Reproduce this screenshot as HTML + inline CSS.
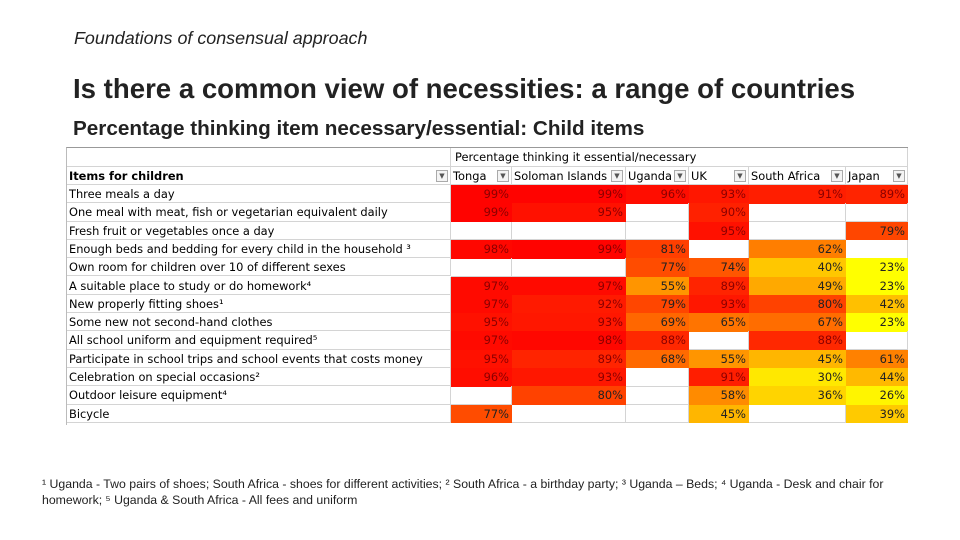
<!DOCTYPE html>
<html><head><meta charset="utf-8"><style>
body{margin:0;width:960px;height:540px;background:#fff;position:relative;overflow:hidden;font-family:"DejaVu Sans","Liberation Sans",sans-serif;}
.abs{position:absolute;white-space:nowrap;}
#sub{left:74px;top:28px;font-size:17.9px;font-style:italic;color:#222;font-family:"Liberation Sans",sans-serif;}
#title{left:73px;top:73px;font-size:27.6px;font-weight:bold;color:#222;font-family:"Liberation Sans",sans-serif;}
#title2{left:73px;top:117px;font-size:20.7px;font-weight:bold;color:#222;font-family:"Liberation Sans",sans-serif;}
#tbl{left:66px;top:147px;width:841px;height:277px;border-top:1px solid #999;border-left:1px solid #bbb;white-space:normal;}
.c{position:absolute;font-size:11.4px;line-height:18px;white-space:nowrap;overflow:hidden;box-sizing:border-box;}
.grid{border-bottom:1px solid #d4d4d4;border-right:1px solid #d4d4d4;}
.dd{position:absolute;width:12px;height:12px;border:1px solid #aaa;background:#f4f4f4;box-sizing:border-box;font-size:7px;line-height:10px;text-align:center;color:#555;}
#foot{left:42px;top:476px;width:880px;white-space:normal;font-size:12.3px;line-height:16px;color:#222;font-family:"Liberation Sans Narrow","Liberation Sans",sans-serif;}
</style></head><body>
<div id="sub" class="abs">Foundations of consensual approach</div>
<div id="title" class="abs">Is there a common view of necessities: a range of countries</div>
<div id="title2" class="abs">Percentage thinking item necessary/essential: Child items</div>
<div id="tbl" class="abs"></div>
<div id="foot" class="abs">¹ Uganda - Two pairs of shoes; South Africa - shoes for different activities; ² South Africa - a birthday party; ³ Uganda – Beds; ⁴ Uganda - Desk and chair for homework; ⁵ Uganda &amp; South Africa - All fees and uniform</div>
<script>
const countries=["Tonga","Soloman Islands","Uganda","UK","South Africa","Japan"];
const items=["Three meals a day","One meal with meat, fish or vegetarian equivalent daily","Fresh fruit or vegetables once a day","Enough beds and bedding for every child in the household ³","Own room for children over 10 of different sexes","A suitable place to study or do homework⁴","New properly fitting shoes¹","Some new not second-hand clothes","All school uniform and equipment required⁵","Participate in school trips and school events that costs money","Celebration on special occasions²","Outdoor leisure equipment⁴","Bicycle"];
const tonga=[99,99,null,98,null,97,97,95,97,95,96,null,77];
const solomon=[99,95,null,99,null,97,92,93,98,89,93,80,null];
const uganda=[96,null,null,81,77,55,79,69,88,68,null,null,null];
const uk=[93,90,95,null,74,89,93,65,null,55,91,58,45];
const southAfrica=[91,null,null,62,40,49,80,67,88,45,30,36,null];
const japan=[89,null,79,null,23,23,42,23,null,61,44,26,39];
const series=[tonga,solomon,uganda,uk,southAfrica,japan];
const colEdges=[0,384,445,559,622,682,779,841];
const top0=37,rowH=18.3;
const tbl=document.getElementById('tbl');
function color(v){let h=Math.max(0,Math.min(60,(100-v)/77*60));return `hsl(${h},100%,50%)`;}
function cell(x,y,w,h,txt,cls){const d=document.createElement('div');d.className='c '+(cls||'');d.style.left=x+'px';d.style.top=y+'px';d.style.width=w+'px';d.style.height=h+'px';d.textContent=txt;tbl.appendChild(d);return d;}
let h1=cell(colEdges[1],0,colEdges[7]-colEdges[1],19,'Percentage thinking it essential/necessary','grid');
h1.style.paddingLeft='4px';


let h0=cell(0,0,colEdges[1],19,'','grid');


let ih=cell(0,19,colEdges[1],18,'Items for children','grid');
ih.style.fontWeight='bold';ih.style.paddingLeft='2px';


function addDD(x){const b=document.createElement('div');b.className='dd';b.style.left=(x-15)+'px';b.style.top='22px';b.textContent='▼';tbl.appendChild(b);

}
addDD(colEdges[1]);
countries.forEach((c,i)=>{const d=cell(colEdges[i+1],19,colEdges[i+2]-colEdges[i+1],18,c,'grid');d.style.paddingLeft='2px';


addDD(colEdges[i+2]);});
items.forEach((it,r)=>{const y=top0+r*rowH;
const d=cell(0,y,colEdges[1],rowH,it,'grid');d.style.paddingLeft='2px';d.style.lineHeight=rowH+'px';


series.forEach((s,i)=>{const v=s[r];const x=colEdges[i+1],w=colEdges[i+2]-colEdges[i+1];
const e=cell(x,y,w,rowH+0.5,v==null?'':v+'%',v==null?'grid':'');
e.style.lineHeight=rowH+'px';e.style.textAlign='right';e.style.paddingRight='3px';
if(v!=null){e.style.background=color(v);e.style.color=v>85?'#8a0000':'#222';}


});});
</script>
</body></html>
